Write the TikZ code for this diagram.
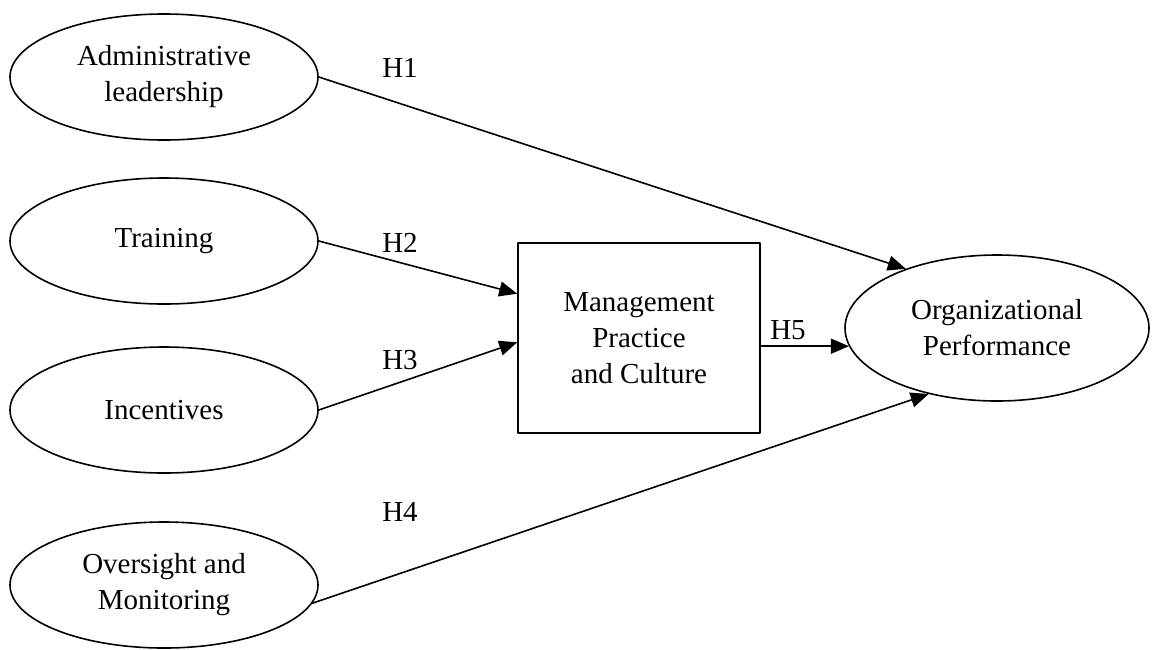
\documentclass[tikz,border=0pt]{standalone}
\usepackage{fontspec}
\setmainfont{Liberation Serif}
\usetikzlibrary{arrows.meta,shapes.geometric}

\tikzset{
  factor/.style={draw, ellipse, line width=0.8pt, minimum width=154pt, minimum height=63pt, inner sep=0pt, align=center},
  mediator/.style={draw, rectangle, line width=0.8pt, minimum width=121pt, minimum height=95pt, align=center},
  link/.style={->, line width=0.8pt},
  hyp/.style={inner sep=0pt}
}

\begin{document}
\begin{tikzpicture}[line cap=round,line join=round,>={Triangle[length=9pt,width=7.5pt]},x=0.5pt,y=-0.5pt,font=\fontsize{14.5}{18}\selectfont]
\useasboundingbox (0,0) rectangle (1159,649);

% antecedents
\node[factor] (adm) at (164,77) {Administrative\\leadership};
\node[factor] (trn) at (164,241) {Training};
\node[factor] (inc) at (164,410) {Incentives};
\node[factor] (ovs) at (164,585) {Oversight and\\Monitoring};

% mediator and outcome
\node[mediator] (mpc) at (639,338) {Management\\Practice\\and Culture};
\node[factor, minimum width=152pt, minimum height=73pt] (org) at (997,328) {Organizational\\Performance};

\draw[link] (adm.east) -- (org.147);
\draw[link] (trn.east) -- (mpc.160);
\draw[link] (inc.east) -- (mpc.182);
\draw[link] (ovs.-7) -- (org.224);
\draw[link] (org.187 -| mpc.east) -- (org.187);

\node[hyp] (h1) at (400,68) {H1};
\node[hyp] (h2) at (400,243) {H2};
\node[hyp] (h3) at (400,360) {H3};
\node[hyp] (h4) at (400,512) {H4};
\node[hyp] (h5) at (788,330) {H5};
\end{tikzpicture}
\end{document}
